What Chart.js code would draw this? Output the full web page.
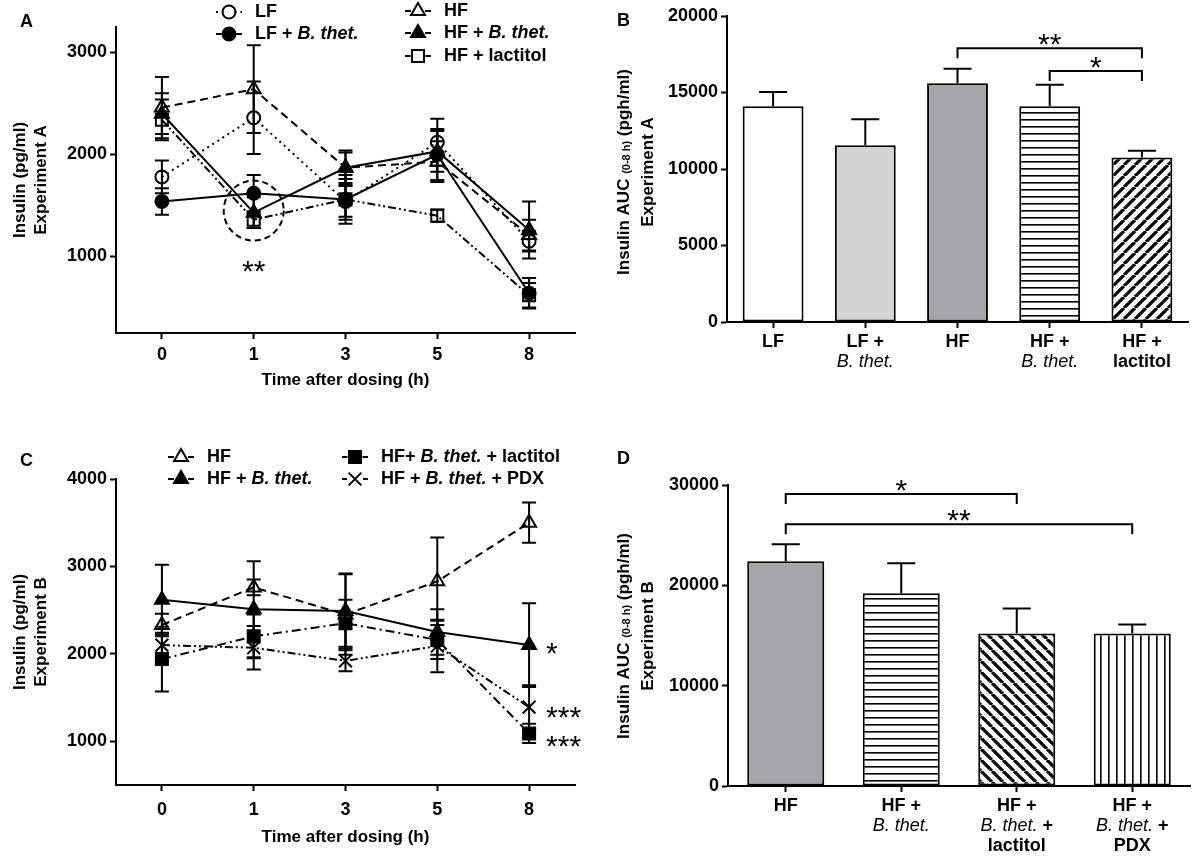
<!DOCTYPE html>
<html>
<head>
<meta charset="utf-8">
<script src="https://cdn.jsdelivr.net/npm/chart.js@4.4.1/dist/chart.umd.min.js"></script>
<style>
  html, body { margin: 0; padding: 0; background: #fff; }
  #wrap { position: relative; width: 1192px; height: 857px; overflow: hidden; }
  .panel { position: absolute; }
</style>
</head>
<body>
<div id="wrap">
  <div class="panel" style="left:0;top:0;width:596px;height:400px"><canvas id="cA"></canvas></div>
  <div class="panel" style="left:596px;top:0;width:596px;height:400px"><canvas id="cB"></canvas></div>
  <div class="panel" style="left:0;top:430px;width:596px;height:427px"><canvas id="cC"></canvas></div>
  <div class="panel" style="left:596px;top:430px;width:596px;height:427px"><canvas id="cD"></canvas></div>
</div>
<script>
// ---- data ----
const timeLabels = ['0', '1', '3', '5', '8'];

// panel A, experiment A (pg/ml, mean and error)
const lfA = [1780, 2360, 1540, 2120, 1150];
const lfAErr = [160, 355, 150, 230, 100];
const lfBthetA = [1540, 1620, 1560, 2000, 640];
const lfBthetAErr = [130, 180, 240, 250, 150];
const hfA = [2460, 2640, 1870, 1930, 1210];
const hfAErr = [300, 430, 170, 200, 150];
const hfBthetA = [2400, 1430, 1870, 2030, 1260];
const hfBthetAErr = [200, 150, 150, 200, 280];
const hfLactA = [2340, 1360, 1560, 1400, 620];
const hfLactAErr = [200, 80, 200, 60, 120];
const yTicksA = [1000, 2000, 3000];

// panel B, AUC experiment A
const aucGroupsA = ['LF', 'LF + B. thet.', 'HF', 'HF + B. thet.', 'HF + lactitol'];
const aucTickLinesA = [['LF'], ['LF +', 'B. thet.'], ['HF'], ['HF +', 'B. thet.'], ['HF +', 'lactitol']];
const aucA = [14100, 11550, 15600, 14100, 10750];
const aucAErr = [930, 1700, 950, 1400, 450];
const yTicksB = [0, 5000, 10000, 15000, 20000];

// panel C, experiment B
const hfC = [2330, 2760, 2450, 2830, 3500];
const hfCErr = [130, 90, 460, 500, 230];
const hfBthetC = [2620, 2510, 2490, 2250, 2100];
const hfBthetCErr = [400, 550, 430, 260, 480];
const hfBthetLactC = [1940, 2200, 2350, 2160, 1090];
const hfBthetLactCErr = [370, 250, 270, 220, 110];
const hfBthetPdxC = [2100, 2070, 1920, 2090, 1390];
const hfBthetPdxCErr = [140, 250, 120, 300, 250];
const yTicksC = [1000, 2000, 3000, 4000];

// panel D, AUC experiment B
const aucGroupsB = ['HF', 'HF + B. thet.', 'HF + B. thet. + lactitol', 'HF + B. thet. + PDX'];
const aucTickLinesB = [['HF'], ['HF +', 'B. thet.'], ['HF +', 'B. thet. +', 'lactitol'], ['HF +', 'B. thet. +', 'PDX']];
const aucB = [22400, 19200, 15200, 15200];
const aucBErr = [1700, 3000, 2500, 900];
const yTicksD = [0, 10000, 20000, 30000];

// ---- helpers ----
const FONT = '"Liberation Sans", Arial, Helvetica, sans-serif';

// "B. thet." goes in italics, the rest bold
function richText(ctx, text, x, y, size, italicWeight, align) {
  const parts = text.split(/(B\. thet\.)/).filter(p => p.length);
  const fonts = parts.map(p => p === 'B. thet.'
    ? `italic ${italicWeight} ${size}px ${FONT}` : `bold ${size}px ${FONT}`);
  let total = 0;
  const widths = parts.map((p, i) => {
    ctx.font = fonts[i];
    const w = ctx.measureText(p).width;
    total += w;
    return w;
  });
  let cx = align === 'center' ? x - total / 2 : x;
  ctx.textAlign = 'left';
  parts.forEach((p, i) => {
    ctx.font = fonts[i];
    ctx.fillText(p, cx, y);
    cx += widths[i];
  });
}

function segText(ctx, segs, x, y) {
  let total = 0;
  const widths = segs.map(s => {
    ctx.font = `bold ${s.size}px ${FONT}`;
    const w = ctx.measureText(s.t).width;
    total += w;
    return w;
  });
  let cx = x - total / 2;
  ctx.textAlign = 'left';
  segs.forEach((s, i) => {
    ctx.font = `bold ${s.size}px ${FONT}`;
    ctx.fillText(s.t, cx, y + (s.dy || 0));
    cx += widths[i];
  });
}

function stars(ctx, text, x, y, align) {
  ctx.font = `30px ${FONT}`;
  ctx.textAlign = align;
  ctx.textBaseline = 'alphabetic';
  ctx.fillText(text, x, y + 16);
}

function hatch(canvasId, kind) {
  const c = document.createElement('canvas');
  const g = c.getContext('2d');
  const s = kind === 'h' ? 7 : (kind === 'v' ? 8 : 11);
  c.width = s; c.height = s;
  g.fillStyle = '#fff';
  g.fillRect(0, 0, s, s);
  g.fillStyle = '#000';
  g.strokeStyle = '#000';
  if (kind === 'h') g.fillRect(0, 0, s, 1.6);
  else if (kind === 'v') g.fillRect(0, 0, 1.6, s);
  else {
    g.lineWidth = 3.2;
    g.beginPath();
    for (let k = -1; k <= 1; k++) {
      if (kind === '/') { g.moveTo(k * s, s); g.lineTo(k * s + s, 0); }
      else { g.moveTo(k * s, 0); g.lineTo(k * s + s, s); }
    }
    g.stroke();
  }
  return document.getElementById(canvasId).getContext('2d').createPattern(c, 'repeat');
}

// ---- plugins ----
const errorBars = {
  id: 'errorBars',
  afterDatasetsDraw(chart, args, o) {
    const { ctx, scales: { y } } = chart;
    ctx.save();
    ctx.strokeStyle = '#000';
    ctx.lineWidth = 2;
    ctx.setLineDash([]);
    chart.data.datasets.forEach((ds, i) => {
      if (!ds.errors) return;
      chart.getDatasetMeta(i).data.forEach((el, j) => {
        const v = ds.data[j], e = ds.errors[j];
        const top = y.getPixelForValue(v + e);
        const bot = y.getPixelForValue(o.upperOnly ? v : v - e);
        ctx.beginPath();
        ctx.moveTo(el.x, bot);
        ctx.lineTo(el.x, top);
        ctx.moveTo(el.x - o.cap, top);
        ctx.lineTo(el.x + o.cap, top);
        if (!o.upperOnly) {
          ctx.moveTo(el.x - o.cap, bot);
          ctx.lineTo(el.x + o.cap, bot);
        }
        ctx.stroke();
      });
    });
    ctx.restore();
  }
};

const panelText = {
  id: 'panelText',
  afterDraw(chart, args, o) {
    const { ctx, chartArea } = chart;
    ctx.save();
    ctx.fillStyle = '#000';
    ctx.textBaseline = 'middle';
    ctx.font = `bold 18px ${FONT}`;
    ctx.textAlign = 'left';
    ctx.fillText(o.letter, o.letterX, o.letterY);
    o.yTitle.forEach((segs, k) => {
      ctx.save();
      ctx.translate(o.yTitleX[k], o.yTitleY);
      ctx.rotate(-Math.PI / 2);
      segText(ctx, segs, 0, 0);
      ctx.restore();
    });
    if (o.xTitle) {
      ctx.font = `bold 17px ${FONT}`;
      ctx.textAlign = 'center';
      ctx.fillText(o.xTitle, (chartArea.left + chartArea.right) / 2, o.xTitleY);
    }
    (o.subLines || []).forEach((lines, i) => {
      const px = chart.scales.x.getPixelForTick(i);
      lines.slice(1).forEach((t, k) => {
        richText(ctx, t, px, chartArea.bottom + 20 * (k + 2), 18, 'normal', 'center');
      });
    });
    ctx.restore();
  }
};

const legendKey = {
  id: 'legendKey',
  afterDraw(chart, args, o) {
    if (!o.spots) return;
    const ctx = chart.ctx;
    o.spots.forEach((p, i) => {
      const ds = chart.data.datasets[i];
      const r = ds.pointRadius;
      ctx.save();
      ctx.strokeStyle = '#000';
      ctx.lineWidth = 2;
      ctx.setLineDash(ds.borderDash || []);
      ctx.beginPath();
      ctx.moveTo(p.x - 13, p.y); ctx.lineTo(p.x - r + 1, p.y);
      ctx.moveTo(p.x + r - 1, p.y); ctx.lineTo(p.x + 13, p.y);
      ctx.stroke();
      ctx.setLineDash([]);
      ctx.fillStyle = ds.pointBackgroundColor;
      Chart.helpers.drawPoint(ctx, { pointStyle: ds.pointStyle, radius: r, borderWidth: 2, rotation: 0 }, p.x, p.y);
      ctx.fillStyle = '#000';
      ctx.textBaseline = 'middle';
      richText(ctx, ds.label, p.x + 26, p.y, 18, 'bold', 'left');
      ctx.restore();
    });
  }
};

const sigMarks = {
  id: 'sigMarks',
  afterDraw(chart, args, o) {
    const { ctx, scales: { x, y } } = chart;
    ctx.save();
    ctx.strokeStyle = '#000';
    ctx.fillStyle = '#000';
    ctx.lineWidth = 2;
    (o.rings || []).forEach(r => {
      const cx = x.getPixelForValue(r.at), cy = y.getPixelForValue(r.level);
      ctx.setLineDash([6, 4]);
      ctx.beginPath();
      ctx.arc(cx, cy, r.radius, 0, Math.PI * 2);
      ctx.stroke();
      ctx.setLineDash([]);
      stars(ctx, r.text, cx, cy + r.textDy, 'center');
    });
    (o.points || []).forEach(p => {
      const el = chart.getDatasetMeta(p.ds).data[p.idx];
      stars(ctx, p.text, el.x + p.dx, el.y + p.dy, 'left');
    });
    (o.brackets || []).forEach(b => {
      const x1 = x.getPixelForValue(b.from), x2 = x.getPixelForValue(b.to);
      const yy = y.getPixelForValue(b.level);
      ctx.beginPath();
      ctx.moveTo(x1, yy + 10);
      ctx.lineTo(x1, yy);
      ctx.lineTo(x2, yy);
      ctx.lineTo(x2, yy + 10);
      ctx.stroke();
      stars(ctx, b.text, (x1 + x2) / 2, yy - 10, 'center');
    });
    ctx.restore();
  }
};

// ---- axes ----
const tickFont = { family: FONT, size: 18, weight: 'bold' };

function yAxis(min, max, ticks, width) {
  return {
    min, max,
    afterBuildTicks: s => { s.ticks = ticks.map(v => ({ value: v })); },
    afterFit: s => { s.width = width; },
    grid: { drawOnChartArea: false, tickLength: 6, tickWidth: 2, tickColor: '#000' },
    border: { color: '#000', width: 2 },
    ticks: { color: '#000', font: tickFont, padding: 3, callback: (v, i) => String(ticks[i]) }
  };
}

function xAxis(height, pad, firstLines) {
  return {
    offset: true,
    afterFit: s => { s.height = height; },
    grid: { drawOnChartArea: false, offset: false, tickLength: 6, tickWidth: 2, tickColor: '#000' },
    border: { color: '#000', width: 2 },
    ticks: {
      color: '#000', font: tickFont, padding: pad, autoSkip: false, maxRotation: 0,
      callback: function (v, i) { return firstLines ? firstLines[i][0] : this.getLabelForValue(v); }
    }
  };
}

function lineSet(label, data, errors, dash, style, filled, radius) {
  return {
    label, data, errors,
    borderColor: '#000', borderWidth: 2, borderDash: dash,
    pointStyle: style, pointRadius: radius,
    pointBackgroundColor: filled ? '#000' : 'rgba(0,0,0,0)',
    pointBorderColor: '#000', pointBorderWidth: 2,
    fill: false, tension: 0
  };
}

const baseOpts = {
  responsive: true,
  maintainAspectRatio: false,
  animation: false,
  events: []
};

const dotted = [2, 4];
const dashed = [8, 5];
const dashDot = [9, 4, 2, 4];
const dashDotDot = [8, 3, 2, 3, 2, 3];

// ---- panel A ----
new Chart(document.getElementById('cA'), {
  type: 'line',
  data: {
    labels: timeLabels,
    datasets: [
      lineSet('LF', lfA, lfAErr, dotted, 'circle', false, 6.5),
      lineSet('LF + B. thet.', lfBthetA, lfBthetAErr, [], 'circle', true, 6.5),
      lineSet('HF', hfA, hfAErr, dashed, 'triangle', false, 8),
      lineSet('HF + B. thet.', hfBthetA, hfBthetAErr, [], 'triangle', true, 8),
      lineSet('HF + lactitol', hfLactA, hfLactAErr, dashDotDot, 'rect', false, 8.5)
    ]
  },
  options: {
    ...baseOpts,
    layout: { padding: { left: 0, top: 27, right: 21, bottom: 0 } },
    scales: { x: xAxis(67, 5), y: yAxis(250, 3250, yTicksA, 116) },
    plugins: {
      legend: { display: false },
      tooltip: { enabled: false },
      errorBars: { cap: 7 },
      panelText: {
        letter: 'A', letterX: 20, letterY: 22,
        yTitle: [[{ t: 'Insulin (pg/ml)', size: 17 }], [{ t: 'Experiment A', size: 17 }]],
        yTitleX: [20, 41], yTitleY: 180,
        xTitle: 'Time after dosing (h)', xTitleY: 380
      },
      legendKey: { spots: [{ x: 229, y: 12 }, { x: 229, y: 34 }, { x: 418, y: 11 }, { x: 418, y: 33 }, { x: 418, y: 56 }] },
      sigMarks: { rings: [{ at: 1, level: 1450, radius: 30, text: '**', textDy: 54 }] }
    }
  },
  plugins: [errorBars, legendKey, panelText, sigMarks]
});

// ---- panel B ----
new Chart(document.getElementById('cB'), {
  type: 'bar',
  data: {
    labels: aucGroupsA,
    datasets: [{
      data: aucA, errors: aucAErr,
      backgroundColor: ['#ffffff', '#d4d4d4', '#a5a4a9', hatch('cB', 'h'), hatch('cB', '/')],
      borderColor: '#000', borderWidth: 2, borderSkipped: false,
      barPercentage: 0.66, categoryPercentage: 1
    }]
  },
  options: {
    ...baseOpts,
    layout: { padding: { left: 0, top: 16, right: 4, bottom: 0 } },
    scales: { x: xAxis(78, 3, aucTickLinesA), y: yAxis(0, 20000, yTicksB, 131) },
    plugins: {
      legend: { display: false },
      tooltip: { enabled: false },
      errorBars: { cap: 14, upperOnly: true },
      panelText: {
        letter: 'B', letterX: 21, letterY: 21,
        yTitle: [
          [{ t: 'Insulin AUC ', size: 17 }, { t: '(0-8 h)', size: 11, dy: 3 }, { t: ' (pgh/ml)', size: 17 }],
          [{ t: 'Experiment A', size: 17 }]
        ],
        yTitleX: [28, 52], yTitleY: 172,
        subLines: aucTickLinesA
      },
      sigMarks: { brackets: [{ from: 2, to: 4, level: 17900, text: '**' }, { from: 3, to: 4, level: 16400, text: '*' }] }
    }
  },
  plugins: [errorBars, panelText, sigMarks]
});

// ---- panel C ----
new Chart(document.getElementById('cC'), {
  type: 'line',
  data: {
    labels: timeLabels,
    datasets: [
      lineSet('HF', hfC, hfCErr, dashed, 'triangle', false, 8),
      lineSet('HF + B. thet.', hfBthetC, hfBthetCErr, [], 'triangle', true, 8),
      lineSet('HF+ B. thet. + lactitol', hfBthetLactC, hfBthetLactCErr, dashDot, 'rect', true, 8.5),
      lineSet('HF + B. thet. + PDX', hfBthetPdxC, hfBthetPdxCErr, dashDotDot, 'crossRot', false, 9)
    ]
  },
  options: {
    ...baseOpts,
    layout: { padding: { left: 0, top: 49, right: 21, bottom: 0 } },
    scales: { x: xAxis(72, 8), y: yAxis(500, 4000, yTicksC, 116) },
    plugins: {
      legend: { display: false },
      tooltip: { enabled: false },
      errorBars: { cap: 7 },
      panelText: {
        letter: 'C', letterX: 20, letterY: 31,
        yTitle: [[{ t: 'Insulin (pg/ml)', size: 17 }], [{ t: 'Experiment B', size: 17 }]],
        yTitleX: [20, 41], yTitleY: 202,
        xTitle: 'Time after dosing (h)', xTitleY: 407
      },
      legendKey: { spots: [{ x: 181, y: 27 }, { x: 181, y: 49 }, { x: 355, y: 27 }, { x: 355, y: 49 }] },
      sigMarks: {
        points: [
          { ds: 1, idx: 4, text: '*', dx: 17, dy: 2 },
          { ds: 3, idx: 4, text: '***', dx: 17, dy: 4 },
          { ds: 2, idx: 4, text: '***', dx: 17, dy: 7 }
        ]
      }
    }
  },
  plugins: [errorBars, legendKey, panelText, sigMarks]
});

// ---- panel D ----
new Chart(document.getElementById('cD'), {
  type: 'bar',
  data: {
    labels: aucGroupsB,
    datasets: [{
      data: aucB, errors: aucBErr,
      backgroundColor: ['#a5a4a9', hatch('cD', 'h'), hatch('cD', '\\'), hatch('cD', 'v')],
      borderColor: '#000', borderWidth: 2, borderSkipped: false,
      barPercentage: 0.667, categoryPercentage: 1
    }]
  },
  options: {
    ...baseOpts,
    layout: { padding: { left: 0, top: 55, right: 2, bottom: 0 } },
    scales: { x: xAxis(71, 3, aucTickLinesB), y: yAxis(0, 30000, yTicksD, 132) },
    plugins: {
      legend: { display: false },
      tooltip: { enabled: false },
      errorBars: { cap: 14, upperOnly: true },
      panelText: {
        letter: 'D', letterX: 21, letterY: 29,
        yTitle: [
          [{ t: 'Insulin AUC ', size: 17 }, { t: '(0-8 h)', size: 11, dy: 3 }, { t: ' (pgh/ml)', size: 17 }],
          [{ t: 'Experiment B', size: 17 }]
        ],
        yTitleX: [28, 52], yTitleY: 206,
        subLines: aucTickLinesB
      },
      sigMarks: { brackets: [{ from: 0, to: 2, level: 29100, text: '*' }, { from: 0, to: 3, level: 26100, text: '**' }] }
    }
  },
  plugins: [errorBars, panelText, sigMarks]
});
</script>
</body>
</html>
